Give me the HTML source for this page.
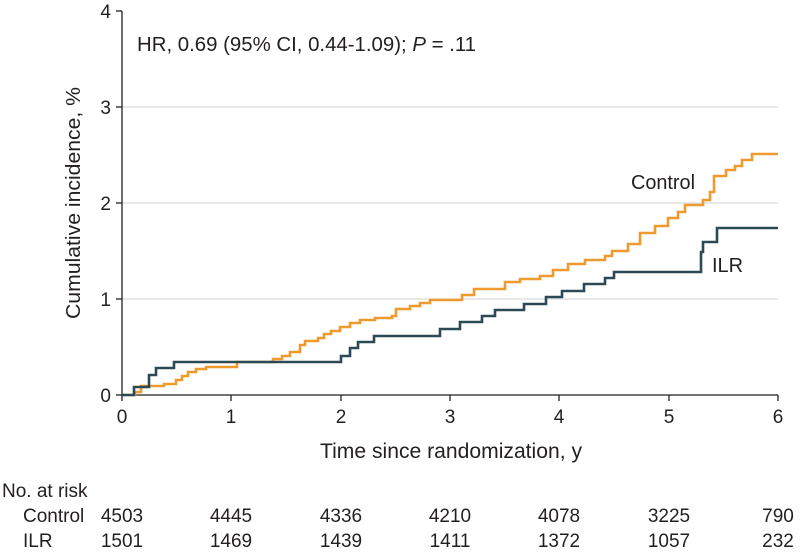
<!DOCTYPE html>
<html><head><meta charset="utf-8"><style>
body{margin:0;background:#fff;}
svg text{font-family:"Liberation Sans",sans-serif;fill:#231f20;}
</style></head><body>
<svg width="800" height="552" viewBox="0 0 800 552" xmlns="http://www.w3.org/2000/svg">
<g stroke="#d9d9d9" stroke-width="1.2">
<line x1="122" y1="299" x2="778" y2="299"/>
<line x1="122" y1="203" x2="778" y2="203"/>
<line x1="122" y1="107" x2="778" y2="107"/>
</g>
<g stroke="#231f20" stroke-width="1.3">
<line x1="122" y1="11" x2="122" y2="395"/>
<line x1="122" y1="395" x2="778" y2="395"/>
<line x1="116" y1="395" x2="122" y2="395"/><line x1="116" y1="299" x2="122" y2="299"/><line x1="116" y1="203" x2="122" y2="203"/><line x1="116" y1="107" x2="122" y2="107"/><line x1="116" y1="11" x2="122" y2="11"/>
<line x1="122" y1="395" x2="122" y2="401"/><line x1="231" y1="395" x2="231" y2="401"/><line x1="341" y1="395" x2="341" y2="401"/><line x1="450" y1="395" x2="450" y2="401"/><line x1="559" y1="395" x2="559" y2="401"/><line x1="669" y1="395" x2="669" y2="401"/><line x1="778" y1="395" x2="778" y2="401"/>
</g>
<g font-size="19" text-anchor="end">
<text x="111" y="402">0</text><text x="111" y="306">1</text><text x="111" y="210">2</text><text x="111" y="114">3</text><text x="111" y="18">4</text>
</g>
<g font-size="19" text-anchor="middle">
<text x="122" y="423">0</text><text x="231" y="423">1</text><text x="341" y="423">2</text><text x="450" y="423">3</text><text x="559" y="423">4</text><text x="669" y="423">5</text><text x="778" y="423">6</text>
<text x="451" y="458" font-size="21" textLength="262" lengthAdjust="spacingAndGlyphs">Time since randomization, y</text>
<text transform="translate(80,203) rotate(-90)" font-size="20" textLength="232" lengthAdjust="spacingAndGlyphs">Cumulative incidence, %</text>
</g>
<text x="137" y="51" font-size="20" textLength="339" lengthAdjust="spacingAndGlyphs">HR, 0.69 (95% CI, 0.44-1.09); <tspan font-style="italic">P</tspan> = .11</text>
<text x="631" y="189" font-size="20" textLength="64" lengthAdjust="spacingAndGlyphs">Control</text>
<text x="712" y="272" font-size="20">ILR</text>
<polyline fill="none" stroke="#ee9a2f" stroke-width="2.6" points="122,395 135,395 135,392 141,392 141,386 164,386 164,384 176,384 176,380 182,380 182,376 188,376 188,372 196,372 196,369 206,369 206,367 237,367 237,362 273,362 273,359 282,359 282,356 290,356 290,352 300,352 300,345 305,345 305,341 318,341 318,338 324,338 324,334 331,334 331,331 340,331 340,327 350,327 350,323 360,323 360,320 375,320 375,318 392,318 392,316 396,316 396,309 410,309 410,306 420,306 420,303 430,303 430,300 462,300 462,295 474,295 474,289 505,289 505,282 520,282 520,279 540,279 540,276 553,276 553,270 568,270 568,264 585,264 585,260 605,260 605,256 612,256 612,251 628,251 628,244 640,244 640,233 655,233 655,226 668,226 668,218 678,218 678,212 685,212 685,205 703,205 703,200 710,200 710,192 714,192 714,176 726,176 726,170 735,170 735,166 742,166 742,160 752,160 752,154 778,154"/>
<polyline fill="none" stroke="#2c4a56" stroke-width="2.6" points="122,395 134,395 134,387 149,387 149,375 156,375 156,368 174,368 174,362 341,362 341,356 350,356 350,348 358,348 358,342 374,342 374,336 440,336 440,329 460,329 460,322 482,322 482,316 495,316 495,310 524,310 524,304 546,304 546,297 562,297 562,291 584,291 584,284 605,284 605,278 614,278 614,272 701,272 701,252 703,252 703,242 717,242 717,228 778,228"/>
<g font-size="19">
<text x="2" y="497">No. at risk</text>
<text x="23" y="522">Control</text>
<text x="23" y="547">ILR</text>
</g>
<g font-size="19" text-anchor="middle">
<text x="122" y="522">4503</text><text x="231" y="522">4445</text><text x="341" y="522">4336</text><text x="450" y="522">4210</text><text x="559" y="522">4078</text><text x="669" y="522">3225</text><text x="778" y="522">790</text>
<text x="122" y="547">1501</text><text x="231" y="547">1469</text><text x="341" y="547">1439</text><text x="450" y="547">1411</text><text x="559" y="547">1372</text><text x="669" y="547">1057</text><text x="778" y="547">232</text>
</g>
</svg>
</body></html>
